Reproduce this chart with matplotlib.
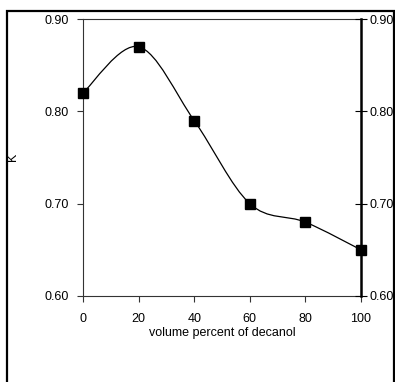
import matplotlib
matplotlib.use("Agg")
import matplotlib.pyplot as plt
from matplotlib.path import Path
from matplotlib.patches import PathPatch, Rectangle

plt.rcParams['font.family'] = ['Liberation Sans', 'DejaVu Sans']

decanol_pct = [0, 20, 40, 60, 80, 100]
k_values = [0.82, 0.87, 0.79, 0.70, 0.68, 0.65]
y_ticks = [0.60, 0.70, 0.80, 0.90]
x_ticks = [0, 20, 40, 60, 80, 100]

fig = plt.figure(figsize=(3.95, 3.82), dpi=100)
fig.patch.set_facecolor('white')

# outer frame (bottom edge falls outside the image)
frame = Rectangle((7/395, -0.05), (394-7)/395, (1-11/382) + 0.05,
                  transform=fig.transFigure, fill=False, edgecolor='black',
                  linewidth=1.6, clip_on=False)
fig.patches.append(frame)

ax = fig.add_axes([83/395, 1-296/382, (361-83)/395, (296-19)/382])

# smooth curve (Catmull-Rom style Bezier, like a spreadsheet "smoothed line")
pts = list(zip(decanol_pct, k_values))
verts = [pts[0]]
codes = [Path.MOVETO]
n = len(pts)
for i in range(n - 1):
    p0 = pts[i - 1] if i > 0 else pts[i]
    p1 = pts[i]
    p2 = pts[i + 1]
    p3 = pts[i + 2] if i + 2 < n else pts[i + 1]
    c1 = (p1[0] + (p2[0] - p0[0]) / 6, p1[1] + (p2[1] - p0[1]) / 6)
    c2 = (p2[0] - (p3[0] - p1[0]) / 6, p2[1] - (p3[1] - p1[1]) / 6)
    verts += [c1, c2, p2]
    codes += [Path.CURVE4] * 3
ax.add_patch(PathPatch(Path(verts, codes), fill=False, edgecolor='black',
                       linewidth=0.9, clip_on=False, zorder=2))
ax.plot(decanol_pct, k_values, linestyle='none', marker='s', markersize=7.5,
        color='black', clip_on=False, zorder=3)

ax.set_xlim(0, 100)
ax.set_ylim(0.60, 0.90)
ax.set_xticks(x_ticks)
ax.set_xticklabels([str(v) for v in x_ticks])
ax.set_yticks(y_ticks)
ax.set_yticklabels([f"{v:.2f}" for v in y_ticks])
ax.tick_params(axis='both', labelsize=9, length=4, width=0.8, color='#333333',
               direction='out', pad=6)
ax.tick_params(axis='x', pad=8)
for s in ['left', 'top', 'bottom']:
    ax.spines[s].set_linewidth(0.8)
    ax.spines[s].set_color('#333333')
ax.spines['right'].set_linewidth(1.8)
ax.spines['right'].set_color('black')

ax2 = ax.twinx()
ax2.set_ylim(0.60, 0.90)
ax2.set_yticks(y_ticks)
ax2.set_yticklabels([f"{v:.2f}" for v in y_ticks])
ax2.tick_params(axis='y', labelsize=9, length=8, width=0.8, direction='inout', pad=2)
for s in ax2.spines.values():
    s.set_visible(False)

ax.set_xlabel('volume percent of decanol', fontsize=9, labelpad=2)
fig.text(13/395, 1-157/382, 'K', fontsize=9, rotation=90, ha='center', va='center')

fig.savefig('out.png', dpi=100)
